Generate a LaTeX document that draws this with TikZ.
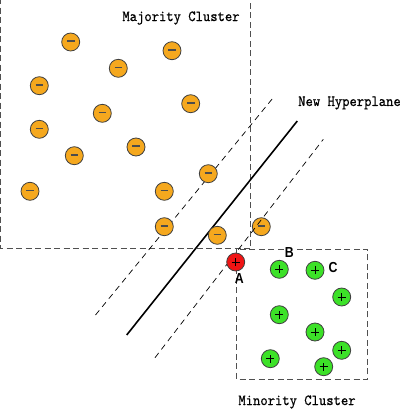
\documentclass[tikz,border=0pt]{standalone}
\usepackage{fontspec}
\newfontfamily\labfont{Liberation Sans}[FakeStretch=0.85,BoldFeatures={FakeStretch=0.85}]
\newfontfamily\capfont{lmmono10-regular.otf}[FakeBold=0.5,FakeStretch=0.9]
\definecolor{orangefill}{RGB}{245,168,30}
\definecolor{greenfill}{RGB}{60,225,40}
\definecolor{redfill}{RGB}{240,20,20}
\definecolor{boxgray}{RGB}{80,80,80}
\tikzset{
  negdot/.style={circle,draw=black!75,line width=0.8pt,fill=orangefill,minimum size=18pt,inner sep=0pt,
    path picture={\draw[black!70,line width=1.5pt] ([xshift=-3.8pt,yshift=0.8pt]path picture bounding box.center) -- ([xshift=3.8pt,yshift=0.8pt]path picture bounding box.center);}},
  plusdot/.style={circle,draw=black!75,line width=0.8pt,fill=greenfill,minimum size=18pt,inner sep=0pt,
    path picture={\draw[black,line width=0.8pt] ([xshift=-4pt]path picture bounding box.center) -- ([xshift=4pt]path picture bounding box.center)
      ([yshift=-4pt]path picture bounding box.center) -- ([yshift=4pt]path picture bounding box.center);}},
  plusred/.style={plusdot,fill=redfill},
  clusterbox/.style={draw=boxgray,line width=0.9pt,dash pattern=on 6pt off 3.5pt},
  margin/.style={draw=black,line width=0.7pt,dash pattern=on 6pt off 4.5pt},
  hyper/.style={draw=black,line width=1.6pt},
  caption/.style={font=\capfont\fontsize{15.5pt}{17pt}\selectfont,inner sep=0pt},
  letter/.style={font=\labfont\bfseries\fontsize{14.5pt}{16pt}\selectfont,inner sep=0.5pt},
}
\begin{document}
\begin{tikzpicture}[x=1pt,y=-1pt]
\useasboundingbox (0,0) rectangle (403,410);
% point lying under the boundary lines
\node[negdot] (n15) at (261.3,226.7) {};
% boxes
\draw[clusterbox] (0.8,-2) -- (0.8,248.8) -- (250.8,248.8) -- (250.8,-2);
\node[caption] (majlab) at (181,18) {Majority Cluster};
\draw[clusterbox] (236.7,249.3) rectangle (367.7,379.3);
\node[caption] (minlab) at (297,402) {Minority Cluster};
% hyperplane and margins
\coordinate (h1) at (126.7,335);
\coordinate (h2) at (297.3,121);
\coordinate (u1) at (95.5,315);
\coordinate (u2) at (274,96.7);
\coordinate (l1) at (155,357.7);
\coordinate (l2) at (323.3,139.3);
\draw[hyper] (h1) -- (h2);
\draw[margin] (u1) -- (u2);
\draw[margin] (l1) -- (l2);
\node[caption] (hyplab) at (349.5,103) {New Hyperplane};
% majority points
\foreach \n/\x/\y in {n1/70.7/42, n2/172/50.7, n3/118.3/68.3, n4/39.3/85.7, n5/190.7/103.7,
  n6/102.3/113.3, n7/39.3/129.3, n8/136/147, n9/74.3/155.7, n10/208.3/173.7, n11/30/191.3,
  n12/164.3/191.3, n13/164.3/226.7, n14/217.3/235.3}
  \node[negdot] (\n) at (\x,\y) {};
% minority points
\node[plusred] (A) at (235.7,262) {};
\foreach \n/\x/\y in {p1/279.3/269.3, p2/315/270.3, p3/341.7/297, p4/279.3/314.7,
  p5/315/332, p6/341.7/350.3, p7/270.3/358.7, p8/323.7/366.7}
  \node[plusdot] (\n) at (\x,\y) {};
\node[letter] (la) at (239.3,278.5) {A};
\node[letter,fill=white] (lb) at (289.3,253) {B};
\node[letter] (lc) at (333,268) {C};
\end{tikzpicture}
\end{document}
